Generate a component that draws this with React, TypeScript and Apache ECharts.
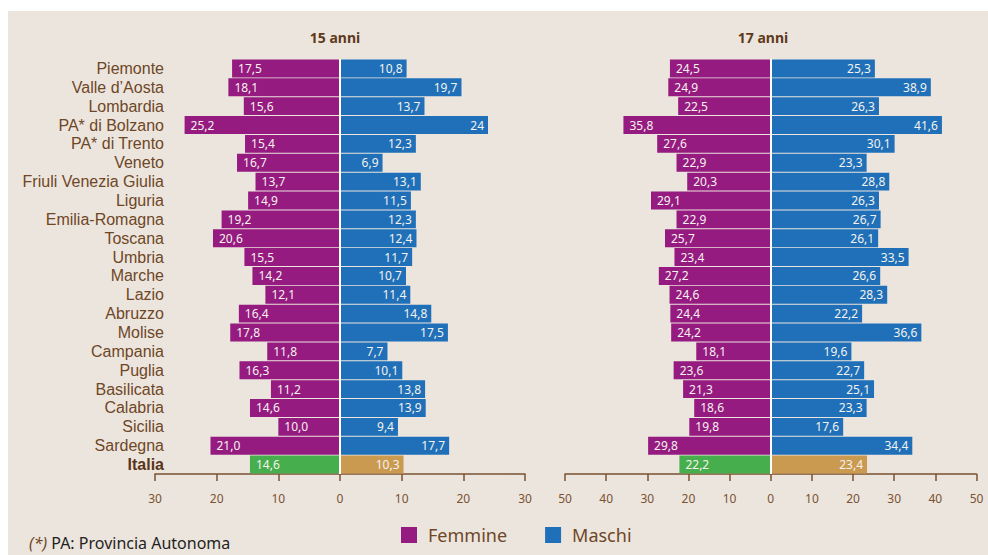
import React, { useEffect, useRef } from "react";
import * as echarts from "echarts";

const regions = [
  "Piemonte", "Valle d’Aosta", "Lombardia", "PA* di Bolzano", "PA* di Trento", "Veneto",
  "Friuli Venezia Giulia", "Liguria", "Emilia-Romagna", "Toscana", "Umbria", "Marche",
  "Lazio", "Abruzzo", "Molise", "Campania", "Puglia", "Basilicata", "Calabria", "Sicilia",
  "Sardegna", "Italia",
];
const femmine15 = [17.5, 18.1, 15.6, 25.2, 15.4, 16.7, 13.7, 14.9, 19.2, 20.6, 15.5, 14.2, 12.1, 16.4, 17.8, 11.8, 16.3, 11.2, 14.6, 10.0, 21.0, 14.6];
const maschi15 = [10.8, 19.7, 13.7, 24, 12.3, 6.9, 13.1, 11.5, 12.3, 12.4, 11.7, 10.7, 11.4, 14.8, 17.5, 7.7, 10.1, 13.8, 13.9, 9.4, 17.7, 10.3];
const femmine17 = [24.5, 24.9, 22.5, 35.8, 27.6, 22.9, 20.3, 29.1, 22.9, 25.7, 23.4, 27.2, 24.6, 24.4, 24.2, 18.1, 23.6, 21.3, 18.6, 19.8, 29.8, 22.2];
const maschi17 = [25.3, 38.9, 26.3, 41.6, 30.1, 23.3, 28.8, 26.3, 26.7, 26.1, 33.5, 26.6, 28.3, 22.2, 36.6, 19.6, 22.7, 25.1, 23.3, 17.6, 34.4, 23.4];
// labels printed without decimals in the source (maschi 15 anni)
const plainLabelMaschi15 = [3];
const xTicks15 = { min: -30, max: 30, interval: 10 };
const xTicks17 = { min: -50, max: 50, interval: 10 };
const panelTitles = ["15 anni", "17 anni"];
const legendNames = ["Femmine", "Maschi"];
const footnoteMark = "(*)";
const footnoteText = " PA: Provincia Autonoma";

const C_F = "#951b81";
const C_M = "#1f70b8";
const C_IF = "#47ae4e";
const C_IM = "#cb9a51";
const BROWN = "#6e4726";
const TICK = "#7a5231";
const BG = "#ece5de";
const FONT = "Noto Sans";
const CAT_FONT = "Liberation Sans";

const fmt = (v: number) => Math.abs(v).toFixed(1).replace(".", ",");

function buildData(vals: number[], sign: number, italiaColor: string, plain: number[] = []) {
  return vals.map((v, i) => {
    const item: any = { value: sign * v };
    if (i === vals.length - 1) item.itemStyle = { color: italiaColor };
    if (plain.includes(i)) item.label = { formatter: String(Math.abs(v)) };
    return item;
  });
}

export default function App() {
  const ref = useRef<HTMLDivElement>(null);
  useEffect(() => {
    if (!ref.current) return;
    const chart = echarts.init(ref.current, undefined, { renderer: "svg" });
    const labelBase = { show: true, color: "#f5f2ee", fontSize: 12, fontFamily: FONT };
    const femLabel = { ...labelBase, position: "insideLeft", distance: 6, formatter: (p: any) => fmt(p.value) };
    const masLabel = { ...labelBase, position: "insideRight", distance: 4, formatter: (p: any) => fmt(p.value) };
    const zeroLine = {
      silent: true, symbol: "none", animation: false,
      label: { show: false },
      lineStyle: { color: "#ffffff", width: 2, type: "solid" },
      data: [{ xAxis: 0 }],
    };
    const xAxisBase = (gi: number, t: any) => ({
      type: "value", gridIndex: gi, ...t,
      axisLine: { show: true, onZero: false, lineStyle: { color: TICK, width: 1.5 } },
      axisTick: { show: true, length: 7, lineStyle: { color: TICK, width: 1.5 } },
      axisLabel: { color: TICK, fontSize: 12, fontFamily: FONT, margin: 18, formatter: (v: number) => String(Math.abs(v)) },
      splitLine: { show: false },
    });
    const yAxisBase = (gi: number, showLabels: boolean) => ({
      type: "category", gridIndex: gi, inverse: true, data: regions,
      axisLine: { show: false }, axisTick: { show: false },
      axisLabel: {
        show: showLabels, interval: 0, margin: -9, color: BROWN, fontSize: 16, lineHeight: 18, fontFamily: CAT_FONT,
        formatter: (v: string) => (v === "Italia" ? `{b|${v}}` : v),
        rich: { b: { fontWeight: "bold", color: "#5a3518", fontSize: 16, lineHeight: 18, fontFamily: CAT_FONT } },
      },
    });
    const barBase = { type: "bar", barCategoryGap: "5%" };
    chart.setOption({
      animation: false,
      backgroundColor: "#ffffff",
      textStyle: { fontFamily: FONT },
      graphic: [
        { type: "rect", z: -10, silent: true, shape: { x: 8, y: 11, width: 980, height: 544 }, style: { fill: BG } },
        { type: "text", x: 335, y: 37, style: { text: panelTitles[0], fill: "#5e3a1c", font: `bold 14px "${FONT}"`, align: "center", verticalAlign: "middle" } },
        { type: "text", x: 763, y: 37, style: { text: panelTitles[1], fill: "#5e3a1c", font: `bold 14px "${FONT}"`, align: "center", verticalAlign: "middle" } },
        {
          type: "text", x: 29, y: 543,
          style: {
            text: `{i|${footnoteMark}}{n|${footnoteText}}`, verticalAlign: "middle",
            rich: {
              i: { fontStyle: "italic", fill: BROWN, fontSize: 16, fontFamily: FONT },
              n: { fill: "#231f1c", fontSize: 16, fontFamily: FONT },
            },
          },
        },
      ],
      legend: {
        data: legendNames, left: 401, top: 526, padding: 0, itemWidth: 16, itemHeight: 16, itemGap: 38,
        icon: "rect", selectedMode: false,
        textStyle: { color: BROWN, fontSize: 18, fontFamily: FONT, padding: [0, 0, 0, 6] },
      },
      grid: [
        { left: 155, width: 370, top: 59, height: 415, containLabel: false },
        { left: 565, width: 411.5, top: 59, height: 415, containLabel: false },
      ],
      xAxis: [xAxisBase(0, xTicks15), xAxisBase(1, xTicks17)],
      yAxis: [yAxisBase(0, true), yAxisBase(1, false)],
      series: [
        { ...barBase, name: legendNames[0], xAxisIndex: 0, yAxisIndex: 0, stack: "a", itemStyle: { color: C_F }, label: femLabel, data: buildData(femmine15, -1, C_IF) },
        { ...barBase, name: legendNames[1], xAxisIndex: 0, yAxisIndex: 0, stack: "a", itemStyle: { color: C_M }, label: masLabel, data: buildData(maschi15, 1, C_IM, plainLabelMaschi15), markLine: zeroLine },
        { ...barBase, name: legendNames[0], xAxisIndex: 1, yAxisIndex: 1, stack: "b", itemStyle: { color: C_F }, label: femLabel, data: buildData(femmine17, -1, C_IF) },
        { ...barBase, name: legendNames[1], xAxisIndex: 1, yAxisIndex: 1, stack: "b", itemStyle: { color: C_M }, label: masLabel, data: buildData(maschi17, 1, C_IM), markLine: zeroLine },
      ],
    });
    return () => chart.dispose();
  }, []);
  return <div ref={ref} style={{ position: "fixed", left: 0, top: 0, width: 988, height: 555 }} />;
}
